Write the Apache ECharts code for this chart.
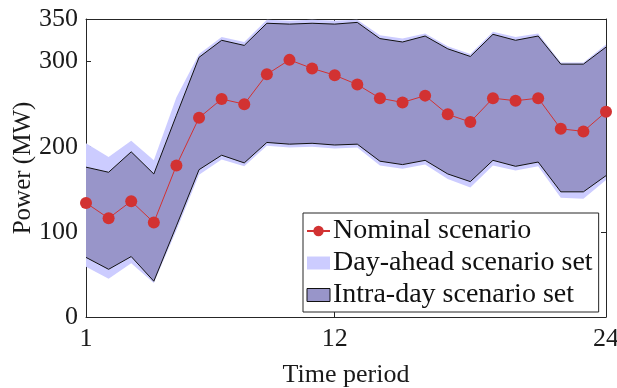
<!DOCTYPE html>
<html>
<head>
<meta charset="utf-8">
<script src="https://cdn.jsdelivr.net/npm/echarts@6/dist/echarts.min.js"></script>
<style>
  html, body { margin: 0; padding: 0; background: #fff; }
  #chart { width: 617px; height: 388px; }
</style>
</head>
<body>
<div id="chart"></div>
<script>
// Time periods 1..24
const periods = ['1', '2', '3', '4', '5', '6', '7', '8', '9', '10', '11', '12',
                 '13', '14', '15', '16', '17', '18', '19', '20', '21', '22', '23', '24'];

// Nominal scenario (MW)
const nominal = [134, 116, 136, 111, 178, 234, 256, 250, 285, 302, 292, 284,
                 273, 257, 252, 260, 238, 229, 257, 254, 257, 221, 218, 241];

// Day-ahead scenario set bounds (MW)
const dayAheadUpper = [204, 188, 207, 184, 258, 309, 329, 323, 349, 348, 349, 348,
                       349, 331, 327, 333, 318, 309, 335, 329, 333, 299, 299, 320];
const dayAheadLower = [59, 45, 63, 40, 102, 167, 185, 177, 201, 199, 200, 198,
                       199, 178, 174, 179, 162, 152, 178, 172, 177, 140, 139, 161];

// Intra-day scenario set bounds (MW)
const intraDayUpper = [176, 170, 194, 168, 237, 305, 325, 319, 345, 344, 345, 344,
                       346, 327, 323, 330, 315, 306, 332, 325, 330, 297, 297, 317];
const intraDayLower = [70, 56, 71, 42, 107, 173, 190, 181, 205, 203, 204, 202,
                       203, 183, 179, 184, 168, 159, 184, 177, 182, 147, 147, 166];

// Axis labels
const xTickLabels = ['1', '12', '24'];
const yTickValues = [0, 100, 200, 300, 350];

const FONT = '"Liberation Serif", "Times New Roman", serif';
const AXIS_COLOR = '#262626';
const RED = '#d23232';
const LIGHT = '#ccccff';
const PURPLE = '#9895c9';

const spans = (hi, lo) => hi.map((v, i) => v - lo[i]);
const showX = (idx, val) => xTickLabels.indexOf(String(val)) >= 0;

const chart = echarts.init(document.getElementById('chart'), null, { renderer: 'canvas' });

const frameLine = { show: true, onZero: false, lineStyle: { color: AXIS_COLOR, width: 1 } };

chart.setOption({
  animation: false,
  backgroundColor: '#fff',
  grid: { left: 86, right: 11, top: 19, bottom: 71, containLabel: false, outerBoundsMode: 'none' },
  xAxis: [
    {
      type: 'category', data: periods, boundaryGap: false,
      axisLine: frameLine, splitLine: { show: false },
      name: 'Time period', nameLocation: 'middle', nameGap: 45, nameMoveOverlap: false,
      nameTextStyle: { fontFamily: FONT, fontSize: 26, color: '#1a1a1a' },
      axisTick: { show: true, inside: true, length: 5, interval: showX,
                  lineStyle: { color: AXIS_COLOR } },
      axisLabel: { show: true, interval: showX, margin: 9,
                   fontFamily: FONT, fontSize: 26, color: '#1a1a1a' }
    },
    {
      type: 'category', data: periods, boundaryGap: false, position: 'top',
      axisLine: frameLine, splitLine: { show: false },
      axisTick: { show: true, inside: true, length: 5, interval: showX,
                  lineStyle: { color: AXIS_COLOR } },
      axisLabel: { show: false }
    }
  ],
  yAxis: [
    {
      type: 'value', min: 0, max: 350,
      axisLine: frameLine, splitLine: { show: false },
      name: 'Power (MW)', nameLocation: 'middle', nameGap: 50, nameMoveOverlap: false,
      nameTextStyle: { fontFamily: FONT, fontSize: 25, color: '#1a1a1a' },
      axisTick: { show: true, inside: true, length: 5, customValues: yTickValues,
                  lineStyle: { color: AXIS_COLOR } },
      axisLabel: { show: true, customValues: yTickValues, margin: 8,
                   fontFamily: FONT, fontSize: 26, color: '#1a1a1a' }
    },
    {
      type: 'value', min: 0, max: 350, position: 'right',
      axisLine: frameLine, splitLine: { show: false },
      axisTick: { show: true, inside: true, length: 5, customValues: yTickValues,
                  lineStyle: { color: AXIS_COLOR } },
      axisLabel: { show: false }
    }
  ],
  legend: {
    orient: 'vertical',
    left: 303, top: 213,
    backgroundColor: '#fff',
    borderColor: AXIS_COLOR, borderWidth: 1, borderRadius: 0,
    padding: [4, 6, 3, 3],
    itemGap: 4,
    itemWidth: 23, itemHeight: 13,
    textStyle: { fontFamily: FONT, fontSize: 28, color: '#111', lineHeight: 28, padding: [0, 0, 0, -2] },
    selectedMode: false,
    data: [
      { name: 'Nominal scenario' },
      { name: 'Day-ahead scenario set', icon: 'rect',
        itemStyle: { color: LIGHT, borderWidth: 0 } },
      { name: 'Intra-day scenario set', icon: 'rect',
        itemStyle: { color: PURPLE, borderColor: '#111', borderWidth: 1 } }
    ]
  },
  series: [
    {
      name: 'dayAheadBase', type: 'line', stack: 'dayAhead',
      data: dayAheadLower, symbol: 'none',
      lineStyle: { opacity: 0 }, z: 1, silent: true
    },
    {
      name: 'Day-ahead scenario set', type: 'line', stack: 'dayAhead',
      data: spans(dayAheadUpper, dayAheadLower), symbol: 'none',
      lineStyle: { opacity: 0 }, itemStyle: { color: LIGHT },
      areaStyle: { color: LIGHT, opacity: 1 }, z: 1, silent: true
    },
    {
      name: 'intraDayBase', type: 'line', stack: 'intraDay',
      data: intraDayLower, symbol: 'none',
      lineStyle: { color: '#111', width: 1 }, z: 2, silent: true
    },
    {
      name: 'Intra-day scenario set', type: 'line', stack: 'intraDay',
      data: spans(intraDayUpper, intraDayLower), symbol: 'none',
      lineStyle: { color: '#111', width: 1 }, itemStyle: { color: PURPLE },
      areaStyle: { color: PURPLE, opacity: 1 }, z: 2, silent: true
    },
    {
      name: 'Nominal scenario', type: 'line',
      data: nominal, symbol: 'circle', symbolSize: 12,
      lineStyle: { color: RED, width: 1 },
      itemStyle: { color: RED }, z: 3
    }
  ]
});
</script>
</body>
</html>
